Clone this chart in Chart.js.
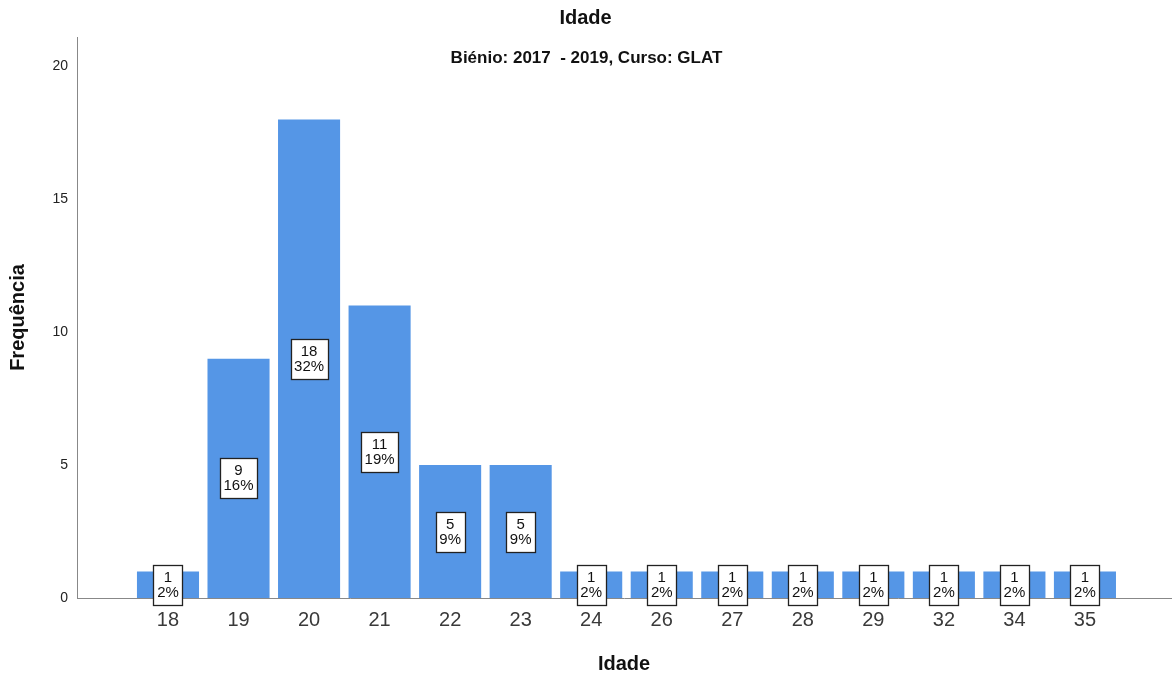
<!DOCTYPE html>
<html>
<head>
<meta charset="utf-8">
<script src="https://cdn.jsdelivr.net/npm/chart.js@4"></script>
<style>
  html, body { margin: 0; padding: 0; background: #fff; }
  #box { width: 1173px; height: 677px; }
</style>
</head>
<body>
<div id="box"><canvas id="idadeChart"></canvas></div>
<script>
// categories and counts
var idades = ["18", "19", "20", "21", "22", "23", "24", "26", "27", "28", "29", "32", "34", "35"];
var frequencias = [1, 9, 18, 11, 5, 5, 1, 1, 1, 1, 1, 1, 1, 1];
var percentagens = ["2%", "16%", "32%", "19%", "9%", "9%", "2%", "2%", "2%", "2%", "2%", "2%", "2%", "2%"];
var yTicks = [0, 5, 10, 15, 20];

var fonte = "'Liberation Sans', Arial, sans-serif";
var azul = "rgb(85,150,230)";

// bars on a linear x so there is empty room left and right of the categories
var pontos = [];
for (var i = 0; i < frequencias.length; i++) {
    pontos.push({ x: i, y: frequencias[i] });
}

// subtitle sits inside the plot area
var subtitulo = {
    id: "subtitulo",
    afterDraw: function(chart) {
        var ctx = chart.ctx;
        ctx.save();
        ctx.font = "bold 17px " + fonte;
        ctx.fillStyle = "#111";
        ctx.textAlign = "center";
        ctx.textBaseline = "middle";
        ctx.fillText("Biénio: 2017  - 2019, Curso: GLAT", chart.width / 2, chart.chartArea.top + 21);
        ctx.restore();
    }
};

// boxed count / percent labels in the middle of each bar
var rotulos = {
    id: "rotulos",
    afterDatasetsDraw: function(chart) {
        var ctx = chart.ctx;
        var meta = chart.getDatasetMeta(0);
        ctx.save();
        ctx.font = "15px " + fonte;
        meta.data.forEach(function(bar, i) {
            var l1 = String(frequencias[i]);
            var l2 = percentagens[i];
            var w = Math.round(Math.max(ctx.measureText(l1).width, ctx.measureText(l2).width) + 7);
            var h = 40;
            var cx = bar.x;
            var cy = (bar.y + bar.base) / 2;
            var x0 = Math.round(cx - w / 2) + 0.5;
            var y0 = Math.round(cy - h / 2) + 0.5;
            ctx.fillStyle = "#fff";
            ctx.fillRect(x0, y0, w, h);
            ctx.strokeStyle = "#222";
            ctx.lineWidth = 1.3;
            ctx.strokeRect(x0, y0, w, h);
            ctx.fillStyle = "#111";
            ctx.textAlign = "center";
            ctx.textBaseline = "middle";
            ctx.fillText(l1, cx, cy - 7);
            ctx.fillText(l2, cx, cy + 8);
        });
        ctx.restore();
    }
};

var grafico = new Chart(document.getElementById("idadeChart"), {
    type: "bar",
    data: {
        datasets: [{
            label: "Frequência",
            data: pontos,
            backgroundColor: azul,
            borderWidth: 0,
            barPercentage: 0.88,
            categoryPercentage: 1.0
        }]
    },
    options: {
        responsive: true,
        maintainAspectRatio: false,
        animation: false,
        layout: { padding: { right: 2 } },
        plugins: {
            legend: { display: false },
            tooltip: { enabled: false },
            title: {
                display: true,
                text: "Idade",
                color: "#111",
                font: { family: fonte, size: 20, weight: "bold" },
                padding: { top: 6, bottom: 7 }
            }
        },
        scales: {
            x: {
                type: "linear",
                offset: false,
                min: -1.29,
                max: 14.22,
                grid: { display: false, drawTicks: false, offset: false },
                border: { display: true, color: "#888", width: 1 },
                afterBuildTicks: function(axis) {
                    axis.ticks = idades.map(function(v, k) { return { value: k }; });
                },
                ticks: {
                    autoSkip: false,
                    maxRotation: 0,
                    padding: 10,
                    color: "#3a3a3a",
                    font: { family: fonte, size: 20 },
                    callback: function(value) { return idades[value]; }
                },
                title: {
                    display: true,
                    text: "Idade",
                    color: "#111",
                    font: { family: fonte, size: 20, weight: "bold" },
                    padding: { top: 0, bottom: 1 }
                },
                afterFit: function(axis) { axis.height = 79; }
            },
            y: {
                min: 0,
                max: 21.1,
                grid: { display: false, drawTicks: false },
                border: { display: true, color: "#888", width: 1 },
                afterBuildTicks: function(axis) {
                    axis.ticks = yTicks.map(function(v) { return { value: v }; });
                },
                ticks: {
                    padding: 9,
                    color: "#222",
                    font: { family: fonte, size: 14 }
                },
                title: {
                    display: true,
                    text: "Frequência",
                    color: "#111",
                    font: { family: fonte, size: 20, weight: "bold" },
                    padding: { top: 6, bottom: 0 }
                },
                afterFit: function(axis) { axis.width = 77; }
            }
        }
    },
    plugins: [subtitulo, rotulos]
});
</script>
</body>
</html>
